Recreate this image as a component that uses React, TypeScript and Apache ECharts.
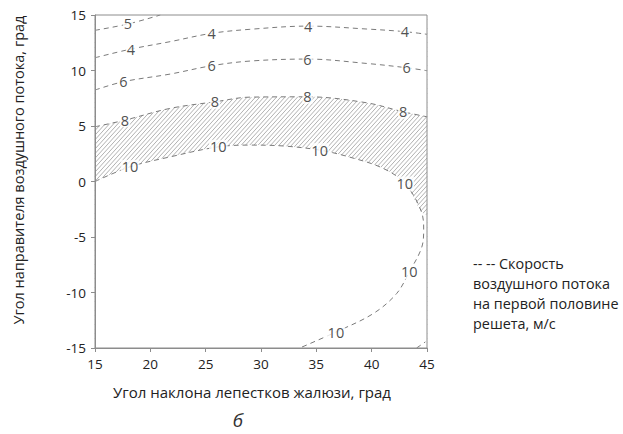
import React, { useEffect, useRef } from "react";
import * as echarts from "echarts";

// ---- data ----
const xTicks = [15, 20, 25, 30, 35, 40, 45];
const yTicks = [-15, -10, -5, 0, 5, 10, 15];

const curve5 = [[15, 13.62], [17.98, 14.19], [20.9, 15]];
const curve4 = [[15, 11.15], [18.25, 11.93], [21.8, 12.6], [25.54, 13.35], [29, 13.71], [34.27, 14.0], [39.5, 13.74], [43, 13.5], [45, 13.26]];
const curve6 = [[15, 8.24], [17.56, 8.99], [21.8, 9.68], [25.54, 10.43], [29, 10.85], [34.2, 11.03], [39.5, 10.64], [43.15, 10.25], [45, 9.98]];
const curve8 = [[15, 4.93], [17.71, 5.53], [21.8, 6.59], [25.84, 7.18], [29, 7.6], [34.2, 7.63], [39.5, 7.1], [42.85, 6.28], [45, 5.83]];
const curve10Top = [[15, 0], [18.16, 1.32], [21.8, 2.22], [26.14, 3.12], [29, 3.28], [32, 3.2], [35.3, 2.83], [38, 2.2], [41, 1.2], [43, -0.18], [44.5, -2.74]];
const curve10Bottom = [[44.7, -4.4], [44.5, -6.0], [43.4, -8.15], [42.25, -10.1], [40.14, -11.9], [36.77, -13.56], [33.5, -15]];
const curve10Fill = [...curve10Top, [45, -3.0]];
const curve10 = [...curve10Top, ...curve10Bottom];
const curve10Corner = [[44.06, -15], [44.85, -14.45]];

const contourLabels = [
  [17.98, 14.19, "5"],
  [18.25, 11.93, "4"], [25.54, 13.35, "4"], [34.27, 14.0, "4"], [43.0, 13.5, "4"],
  [17.56, 8.99, "6"], [25.54, 10.43, "6"], [34.2, 11.03, "6"], [43.15, 10.25, "6"],
  [17.71, 5.53, "8"], [25.84, 7.18, "8"], [34.2, 7.63, "8"], [42.85, 6.28, "8"],
  [18.16, 1.32, "10"], [26.14, 3.12, "10"], [35.3, 2.83, "10"], [43.0, -0.18, "10"],
  [43.4, -8.15, "10"], [36.77, -13.56, "10"],
];

const xName = "Угол наклона лепестков жалюзи, град";
const yName = "Угол направителя воздушного потока, град";
const legendText = "-- -- Скорость\nвоздушного потока\nна первой половине\nрешета, м/с";
const panelLetter = "б";

// ---- styles ----
const FONT = "'Open Sans', 'Noto Sans', sans-serif";
const AXIS_COLOR = "#8c8c8c";
const TEXT_COLOR = "#222";
const CONTOUR_COLOR = "#7a7a7a";
const HATCH_COLOR = "#8f8f8f";
const HATCH_SPACING = 4.2;
const HATCH_SLOPE = 1.1;
const SMOOTH = 0.35;

export default function App() {
  const ref = useRef<HTMLDivElement>(null);
  useEffect(() => {
    document.body.style.margin = "0";
    const chart = echarts.init(ref.current!, undefined, { renderer: "svg" });

    const contour = (data: number[][], name: string) => ({
      type: "line",
      name,
      data,
      smooth: SMOOTH,
      symbol: "none",
      silent: true,
      z: 3,
      lineStyle: { color: CONTOUR_COLOR, width: 1, type: [5, 4] },
    });

    const whiteArea = (data: number[][], origin: string) => ({
      type: "line",
      data,
      smooth: SMOOTH,
      symbol: "none",
      silent: true,
      z: 2,
      lineStyle: { opacity: 0, width: 0 },
      areaStyle: { color: "#ffffff", opacity: 1, origin },
    });

    chart.setOption({
      animation: false,
      grid: { left: 95, right: 196, top: 15, bottom: 86, show: true, borderColor: AXIS_COLOR, borderWidth: 1, backgroundColor: "transparent", z: 10 },
      xAxis: {
        type: "value",
        min: xTicks[0],
        max: xTicks[xTicks.length - 1],
        interval: 5,
        z: 10,
        axisLine: { show: true, onZero: false, lineStyle: { color: AXIS_COLOR } },
        axisTick: { show: true, length: 4, lineStyle: { color: AXIS_COLOR } },
        axisLabel: { color: TEXT_COLOR, fontSize: 13.5, fontFamily: FONT, margin: 9 },
        splitLine: { show: false },
      },
      yAxis: {
        type: "value",
        min: yTicks[0],
        max: yTicks[yTicks.length - 1],
        interval: 5,
        z: 10,
        axisLine: { show: true, onZero: false, lineStyle: { color: AXIS_COLOR } },
        axisTick: { show: true, length: 4, lineStyle: { color: AXIS_COLOR } },
        axisLabel: { color: TEXT_COLOR, fontSize: 13.5, fontFamily: FONT, margin: 9 },
        splitLine: { show: false },
      },
      graphic: [
        {
          type: "text",
          x: 18,
          y: 170,
          rotation: Math.PI / 2,
          style: { text: yName, font: `14.5px ${FONT}`, fill: TEXT_COLOR, align: "center", verticalAlign: "middle" },
        },
        {
          type: "text",
          x: 252,
          y: 392,
          style: { text: xName, font: `15px ${FONT}`, fill: TEXT_COLOR, align: "center", verticalAlign: "middle" },
        },
        {
          type: "text",
          x: 473,
          y: 253,
          style: { text: legendText, font: `14.4px ${FONT}`, fill: TEXT_COLOR, align: "left", verticalAlign: "top", lineHeight: 20 },
        },
        {
          type: "text",
          x: 238,
          y: 420,
          style: { text: panelLetter, font: `italic 19px ${FONT}`, lineHeight: 19, fill: "#333", align: "center", verticalAlign: "middle" },
        },
      ],
      series: [
        {
          type: "custom",
          silent: true,
          z: 1,
          data: [[xTicks[0], yTicks[0]]],
          renderItem: (params: any, api: any) => {
            const tl = api.coord([xTicks[0], yTicks[yTicks.length - 1]]);
            const br = api.coord([xTicks[xTicks.length - 1], yTicks[0]]);
            const L = tl[0], T = tl[1], R = br[0], B = br[1];
            const span = (B - T) / HATCH_SLOPE;
            const children: any[] = [];
            for (let c = L - span; c < R; c += HATCH_SPACING) {
              let x1 = c, y1 = B, x2 = c + span, y2 = T;
              if (x1 < L) { y1 = B - (L - c) * HATCH_SLOPE; x1 = L; }
              if (x2 > R) { y2 = B - (R - c) * HATCH_SLOPE; x2 = R; }
              if (x2 - x1 < 0.3) continue;
              children.push({ type: "line", shape: { x1, y1, x2, y2 }, style: { stroke: HATCH_COLOR, lineWidth: 0.7 } });
            }
            return { type: "group", children };
          },
        },
        whiteArea(curve8, "end"),
        whiteArea(curve10Fill, "start"),
        contour(curve5, "5"),
        contour(curve4, "4"),
        contour(curve6, "6"),
        contour(curve8, "8"),
        contour(curve10, "10"),
        contour(curve10Corner, "10b"),
        {
          type: "scatter",
          data: contourLabels,
          symbolSize: 1,
          silent: true,
          z: 4,
          itemStyle: { color: "rgba(0,0,0,0)" },
          label: {
            show: true,
            position: "inside",
            formatter: (p: any) => p.value[2],
            color: TEXT_COLOR,
            fontSize: 14.5,
            fontFamily: FONT,
            backgroundColor: "#ffffff",
            padding: [0, 1],
            lineHeight: 14,
          },
        },
      ],
    });
    return () => chart.dispose();
  }, []);
  return <div ref={ref} style={{ width: 623, height: 434 }} />;
}
